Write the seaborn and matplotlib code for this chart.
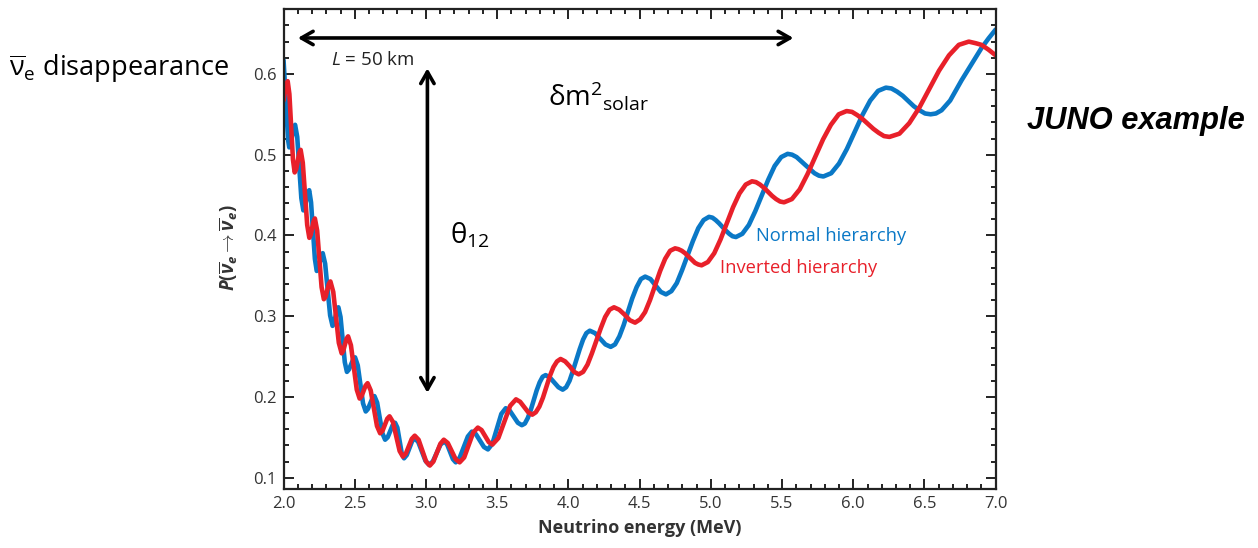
import matplotlib
matplotlib.use('Agg')
import matplotlib.pyplot as plt
import seaborn as sns
import pandas as pd
from matplotlib.ticker import MultipleLocator, FormatStrFormatter

# ---------------- data ----------------
energy_normal = [2.000, 2.020, 2.032, 2.040, 2.050, 2.071, 2.081, 2.096, 2.125, 2.139,
                 2.149, 2.170, 2.180, 2.193, 2.220, 2.233, 2.244, 2.265, 2.275, 2.292,
                 2.327, 2.344, 2.354, 2.375, 2.385, 2.400, 2.430, 2.445, 2.459, 2.488,
                 2.502, 2.521, 2.558, 2.577, 2.592, 2.623, 2.638, 2.657, 2.694, 2.713,
                 2.731, 2.766, 2.783, 2.799, 2.830, 2.846, 2.865, 2.902, 2.921, 2.946,
                 2.996, 3.021, 3.048, 3.102, 3.129, 3.149, 3.189, 3.209, 3.237, 3.294,
                 3.322, 3.350, 3.407, 3.435, 3.466, 3.529, 3.560, 3.588, 3.645, 3.673,
                 3.694, 3.715, 3.736, 3.777, 3.798, 3.819, 3.840, 3.870, 3.900, 3.930,
                 3.960, 3.984, 4.008, 4.031, 4.079, 4.103, 4.126, 4.150, 4.187, 4.224,
                 4.260, 4.297, 4.327, 4.358, 4.388, 4.448, 4.479, 4.509, 4.539, 4.576,
                 4.612, 4.649, 4.685, 4.723, 4.761, 4.798, 4.874, 4.912, 4.949, 4.987,
                 5.011, 5.034, 5.058, 5.105, 5.129, 5.152, 5.176, 5.221, 5.267, 5.312,
                 5.403, 5.448, 5.494, 5.539, 5.570, 5.602, 5.633, 5.696, 5.728, 5.759,
                 5.790, 5.845, 5.900, 5.955, 6.064, 6.119, 6.174, 6.229, 6.268, 6.308,
                 6.347, 6.425, 6.465, 6.504, 6.543, 6.580, 6.620, 6.680, 6.760, 6.830,
                 6.900, 6.950, 7.000]
prob_normal = [0.617, 0.556, 0.518, 0.509, 0.513, 0.533, 0.537, 0.522, 0.446, 0.431,
               0.435, 0.452, 0.456, 0.441, 0.371, 0.356, 0.359, 0.375, 0.378, 0.365,
               0.301, 0.288, 0.291, 0.308, 0.311, 0.299, 0.243, 0.231, 0.234, 0.246,
               0.249, 0.239, 0.192, 0.182, 0.185, 0.198, 0.201, 0.193, 0.155, 0.147,
               0.150, 0.165, 0.168, 0.162, 0.130, 0.124, 0.128, 0.145, 0.149, 0.144,
               0.121, 0.116, 0.120, 0.141, 0.145, 0.141, 0.123, 0.119, 0.125, 0.151,
               0.157, 0.154, 0.138, 0.135, 0.142, 0.179, 0.186, 0.183, 0.168, 0.165,
               0.167, 0.174, 0.184, 0.208, 0.218, 0.225, 0.227, 0.224, 0.218, 0.212,
               0.209, 0.212, 0.220, 0.232, 0.259, 0.271, 0.279, 0.282, 0.279, 0.272,
               0.265, 0.262, 0.265, 0.275, 0.289, 0.322, 0.336, 0.346, 0.349, 0.346,
               0.338, 0.330, 0.327, 0.331, 0.341, 0.357, 0.393, 0.409, 0.419, 0.423,
               0.422, 0.419, 0.415, 0.406, 0.402, 0.399, 0.398, 0.402, 0.413, 0.430,
               0.469, 0.486, 0.497, 0.501, 0.500, 0.497, 0.492, 0.482, 0.477, 0.474,
               0.473, 0.477, 0.489, 0.507, 0.549, 0.567, 0.579, 0.583, 0.582, 0.578,
               0.573, 0.560, 0.555, 0.551, 0.550, 0.551, 0.555, 0.567, 0.592, 0.612,
               0.632, 0.644, 0.655]

energy_inverted = [2.000, 2.015, 2.029, 2.041, 2.066, 2.078, 2.089, 2.110, 2.120, 2.135,
                   2.166, 2.181, 2.191, 2.210, 2.220, 2.236, 2.267, 2.283, 2.295, 2.318,
                   2.329, 2.349, 2.388, 2.408, 2.419, 2.442, 2.453, 2.473, 2.514, 2.534,
                   2.548, 2.576, 2.590, 2.612, 2.656, 2.678, 2.695, 2.728, 2.744, 2.768,
                   2.815, 2.838, 2.859, 2.900, 2.921, 2.948, 3.001, 3.027, 3.052, 3.101,
                   3.125, 3.153, 3.208, 3.236, 3.268, 3.332, 3.364, 3.390, 3.441, 3.466,
                   3.508, 3.591, 3.632, 3.661, 3.718, 3.746, 3.771, 3.796, 3.821, 3.870,
                   3.895, 3.920, 3.945, 3.977, 4.009, 4.040, 4.072, 4.103, 4.134, 4.165,
                   4.227, 4.258, 4.289, 4.320, 4.357, 4.394, 4.431, 4.468, 4.503, 4.538,
                   4.573, 4.644, 4.679, 4.714, 4.749, 4.772, 4.796, 4.819, 4.865, 4.889,
                   4.912, 4.935, 4.979, 5.024, 5.068, 5.156, 5.201, 5.245, 5.289, 5.317,
                   5.345, 5.373, 5.430, 5.458, 5.486, 5.514, 5.569, 5.624, 5.679, 5.788,
                   5.843, 5.898, 5.953, 5.991, 6.028, 6.066, 6.141, 6.179, 6.216, 6.254,
                   6.324, 6.393, 6.463, 6.602, 6.672, 6.741, 6.811, 6.860, 6.900, 6.950,
                   7.000]
prob_inverted = [0.567, 0.584, 0.591, 0.575, 0.494, 0.478, 0.482, 0.502, 0.506, 0.490,
                 0.413, 0.397, 0.401, 0.417, 0.421, 0.406, 0.336, 0.321, 0.324, 0.340,
                 0.343, 0.330, 0.267, 0.254, 0.257, 0.272, 0.275, 0.264, 0.209, 0.198,
                 0.201, 0.214, 0.217, 0.208, 0.164, 0.155, 0.158, 0.173, 0.176, 0.169,
                 0.133, 0.126, 0.130, 0.148, 0.152, 0.147, 0.120, 0.115, 0.120, 0.142,
                 0.147, 0.143, 0.123, 0.119, 0.125, 0.156, 0.162, 0.159, 0.144, 0.141,
                 0.149, 0.189, 0.197, 0.194, 0.181, 0.178, 0.181, 0.188, 0.199, 0.226,
                 0.237, 0.244, 0.247, 0.244, 0.238, 0.231, 0.228, 0.231, 0.240, 0.254,
                 0.285, 0.299, 0.308, 0.311, 0.308, 0.302, 0.295, 0.292, 0.296, 0.305,
                 0.320, 0.356, 0.371, 0.381, 0.384, 0.383, 0.381, 0.378, 0.370, 0.366,
                 0.364, 0.363, 0.367, 0.378, 0.395, 0.435, 0.452, 0.463, 0.467, 0.466,
                 0.463, 0.459, 0.449, 0.445, 0.442, 0.441, 0.445, 0.457, 0.476, 0.519,
                 0.537, 0.550, 0.554, 0.553, 0.549, 0.544, 0.532, 0.527, 0.523, 0.522,
                 0.526, 0.539, 0.558, 0.604, 0.623, 0.636, 0.640, 0.638, 0.636, 0.630,
                 0.623]

x_ticks_major = [2.0, 2.5, 3.0, 3.5, 4.0, 4.5, 5.0, 5.5, 6.0, 6.5, 7.0]
y_ticks_major = [0.1, 0.2, 0.3, 0.4, 0.5, 0.6]

BLUE = '#0a78c6'
RED = '#e8202a'

# ---------------- style ----------------
sns.set_theme(style='ticks')
plt.rcParams['font.family'] = ['Open Sans', 'DejaVu Sans']
plt.rcParams.update({
    'mathtext.fontset': 'custom',
    'mathtext.rm': 'Open Sans',
    'mathtext.it': 'Open Sans:italic',
    'mathtext.bf': 'Open Sans:bold',
    'mathtext.bfit': 'Open Sans:italic:bold',
})

fig = plt.figure(figsize=(12.58, 5.48), dpi=100)
ax = fig.add_axes([0.2254, 0.1077, 0.5661, 0.8753])

df_n = pd.DataFrame({'E': energy_normal, 'P': prob_normal})
df_i = pd.DataFrame({'E': energy_inverted, 'P': prob_inverted})
sns.lineplot(data=df_n, x='E', y='P', ax=ax, color=BLUE, lw=3.3,
             estimator=None, sort=False)
sns.lineplot(data=df_i, x='E', y='P', ax=ax, color=RED, lw=3.3,
             estimator=None, sort=False)

ax.set_xlim(2.0, 7.0)
ax.set_ylim(0.086, 0.68)
ax.set_xticks(x_ticks_major)
ax.set_yticks(y_ticks_major)
ax.xaxis.set_minor_locator(MultipleLocator(0.1))
ax.yaxis.set_minor_locator(MultipleLocator(0.02))
ax.xaxis.set_major_formatter(FormatStrFormatter('%.1f'))
ax.yaxis.set_major_formatter(FormatStrFormatter('%.1f'))
ax.tick_params(which='both', direction='in', top=True, right=True,
               width=1.4, color='#222222', labelsize=12, labelcolor='#333333',
               pad=5)
ax.tick_params(which='major', length=7.5)
ax.tick_params(which='minor', length=3.8)
for sp in ax.spines.values():
    sp.set_linewidth(1.6)
    sp.set_color('#222222')

ax.set_xlabel('Neutrino energy (MeV)', fontsize=13, fontweight='bold',
              color='#333333', labelpad=5)
ax.set_ylabel('')
ax.text(-0.0765, 0.503,
        r'$\mathbfit{P}\mathbf{(}\overline{\mathbfit{\nu}}_{\mathbfit{e}}\mathbf{\rightarrow}'
        r'\overline{\mathbfit{\nu}}_{\mathbfit{e}}\mathbf{)}$',
        transform=ax.transAxes, rotation=90, ha='center', va='center',
        fontsize=13.5, color='#333333')

# arrows
ax.annotate('', xy=(5.58, 0.6445), xytext=(2.10, 0.6445),
            arrowprops=dict(arrowstyle='<->,head_length=0.7,head_width=0.4',
                            lw=2.6, color='black', shrinkA=0, shrinkB=0))
ax.annotate('', xy=(3.01, 0.205), xytext=(3.01, 0.607),
            arrowprops=dict(arrowstyle='<->,head_length=0.7,head_width=0.4',
                            lw=2.6, color='black', shrinkA=0, shrinkB=0))

# texts
ax.text(2.331, 0.617, r'$L$ = 50 km', fontsize=13.5, ha='left', va='center',
        color='#222222')
ax.text(3.857, 0.561, r'$\mathrm{\delta m^{2}{}_{solar}}$', fontsize=20,
        ha='left', va='baseline', color='black')
ax.text(3.169, 0.390, r'$\mathrm{\theta_{12}}$', fontsize=20,
        ha='left', va='baseline', color='black')
ax.text(5.318, 0.399, 'Normal hierarchy', fontsize=13.2, color=BLUE,
        ha='left', va='center')
ax.text(5.065, 0.360, 'Inverted hierarchy', fontsize=13.2, color=RED,
        ha='left', va='center')

fig.text(9 / 1258, 1 - 76 / 548, r'$\overline{\mathrm{\nu}}_{\mathrm{e}}$ disappearance',
         fontsize=19.5, ha='left', va='baseline', color='black')
fig.text(1027 / 1258, 1 - 121 / 548, 'JUNO example', fontsize=22.2,
         family='Liberation Sans', fontweight='bold', fontstyle='italic',
         ha='left', va='center', color='black')

fig.savefig('out.png', dpi=100)
